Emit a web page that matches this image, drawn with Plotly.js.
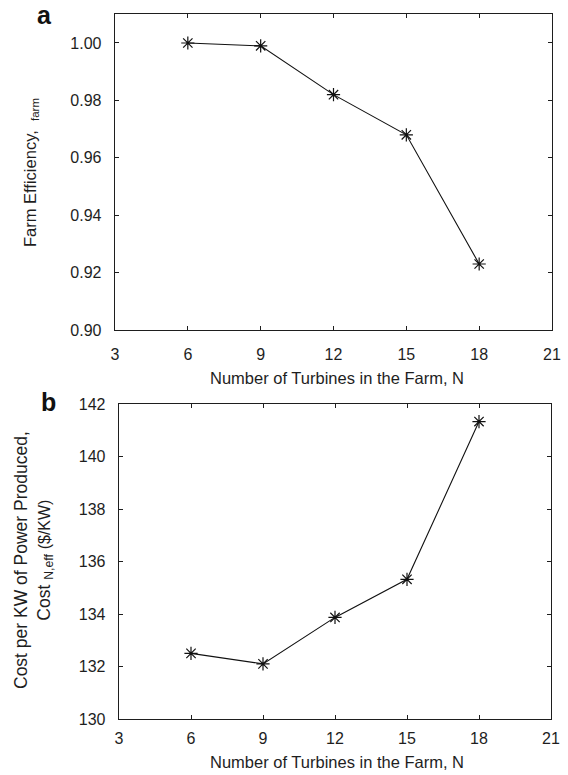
<!DOCTYPE html>
<html>
<head>
<meta charset="utf-8">
<script src="https://cdn.plot.ly/plotly-3.0.1.min.js"></script>
<style>
  html, body { margin: 0; padding: 0; background: #fff; }
  #chart { width: 568px; height: 775px; }
</style>
</head>
<body>
<div id="chart"></div>
<script>
// Number of turbines in the farm
const turbines = [6, 9, 12, 15, 18];
// Panel a: farm efficiency
const farmEfficiency = [1.000, 0.999, 0.982, 0.968, 0.923];
// Panel b: cost per KW of power produced ($/KW)
const costPerKW = [132.50, 132.10, 133.87, 135.32, 141.33];

const xTicks = [3, 6, 9, 12, 15, 18, 21];
const yTicksA = [0.90, 0.92, 0.94, 0.96, 0.98, 1.00];
const yTicksB = [130, 132, 134, 136, 138, 140, 142];

const FONT = 'Liberation Sans, Arial, Helvetica, sans-serif';
const INK = '#1e1e1e';
const W = 568, H = 775;

const lineStyle = { color: '#111', width: 1.1 };
const markerStyle = { symbol: 'asterisk-open', size: 11, color: '#111', line: { color: '#111', width: 1.2 } };

const traces = [
  { x: turbines, y: farmEfficiency, xaxis: 'x', yaxis: 'y', mode: 'lines+markers',
    line: lineStyle, marker: markerStyle, showlegend: false },
  { x: turbines, y: costPerKW, xaxis: 'x2', yaxis: 'y2', mode: 'lines+markers',
    line: lineStyle, marker: markerStyle, showlegend: false }
];

function axisBase(extra) {
  return Object.assign({
    showgrid: false, zeroline: false,
    showline: true, mirror: 'ticks', linecolor: INK, linewidth: 1.3,
    ticks: 'inside', ticklen: 4, tickwidth: 1, tickcolor: INK,
    tickfont: { family: FONT, size: 16, color: INK },
    ticklabelstandoff: 9,
    automargin: false, fixedrange: true
  }, extra);
}

const layout = {
  width: W, height: H,
  margin: { l: 0, r: 0, t: 0, b: 0 },
  paper_bgcolor: '#fff', plot_bgcolor: '#fff',
  font: { family: FONT, color: INK },
  xaxis: axisBase({ domain: [115 / W, 552 / W], anchor: 'y', range: [3, 21],
    tickvals: xTicks, ticktext: xTicks.map(String) }),
  yaxis: axisBase({ domain: [1 - 330 / H, 1 - 14 / H], anchor: 'x', range: [0.90, 1.0101],
    tickvals: yTicksA, ticktext: yTicksA.map(v => v.toFixed(2)) }),
  xaxis2: axisBase({ domain: [119 / W, 551 / W], anchor: 'y2', range: [3, 21],
    tickvals: xTicks, ticktext: xTicks.map(String), ticklabelstandoff: 4 }),
  yaxis2: axisBase({ domain: [1 - 719 / H, 1 - 404 / H], anchor: 'x2', range: [130, 142],
    tickvals: yTicksB, ticktext: yTicksB.map(String) }),
  annotations: [
    // panel letters
    { text: '<b>a</b>', xref: 'paper', yref: 'paper', x: 44 / W, y: 1 - 15 / H,
      xanchor: 'center', yanchor: 'middle', showarrow: false,
      font: { family: FONT, size: 25, color: '#111' } },
    { text: '<b>b</b>', xref: 'paper', yref: 'paper', x: 48 / W, y: 1 - 402 / H,
      xanchor: 'center', yanchor: 'middle', showarrow: false,
      font: { family: FONT, size: 25, color: '#111' } },
    // x-axis titles
    { text: 'Number of Turbines in the Farm, N', xref: 'paper', yref: 'paper',
      x: 337 / W, y: 1 - 378 / H, xanchor: 'center', yanchor: 'middle', showarrow: false,
      font: { family: FONT, size: 16.5, color: INK } },
    { text: 'Number of Turbines in the Farm, N', xref: 'paper', yref: 'paper',
      x: 337 / W, y: 1 - 762 / H, xanchor: 'center', yanchor: 'middle', showarrow: false,
      font: { family: FONT, size: 16.5, color: INK } },
    // y-axis titles
    { text: 'Farm Efficiency,  <sub>farm</sub>', xref: 'paper', yref: 'paper',
      x: 31 / W, y: 1 - 173 / H, xanchor: 'center', yanchor: 'middle', textangle: -90,
      showarrow: false, font: { family: FONT, size: 16.5, color: INK } },
    { text: 'Cost per KW of Power Produced,<br>Cost <sub>N,eff</sub> <span style="font-size:16px">($/KW)</span>',
      xref: 'paper', yref: 'paper',
      x: 33 / W, y: 1 - 560 / H, xanchor: 'center', yanchor: 'middle', textangle: -90,
      showarrow: false, font: { family: FONT, size: 17.5, color: INK } }
  ]
};

Plotly.newPlot('chart', traces, layout, { displayModeBar: false, staticPlot: true });
</script>
</body>
</html>
